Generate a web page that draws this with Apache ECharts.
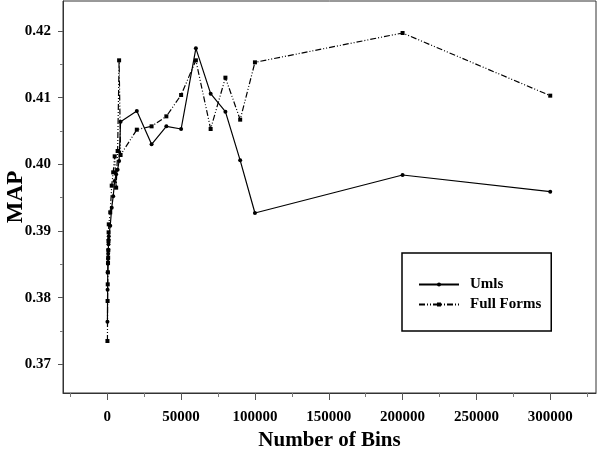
<!DOCTYPE html>
<html>
<head>
<meta charset="utf-8">
<script src="https://cdn.jsdelivr.net/npm/echarts@6/dist/echarts.min.js"></script>
<style>html,body{margin:0;padding:0;background:#fff}#c{width:600px;height:451px}</style>
</head>
<body>
<div id="c"></div>
<script>
const bins = [100,200,300,400,500,600,700,800,900,1000,2000,3000,4000,5000,6000,7000,8000,9000,20000,30000,40000,50000,60000,70000,80000,90000,100000,200000,300000];
const umlsMap = [0.3764,0.3812,0.3838,0.3851,0.3858,0.3866,0.3872,0.3880,0.3887,0.3892,0.3908,0.3935,0.3952,0.3975,0.3985,0.3992,0.4005,0.4064,0.4080,0.4030,0.4057,0.4053,0.4174,0.4106,0.4079,0.4006,0.3927,0.3984,0.3959];
const fullFormsMap = [0.3735,0.3795,0.3820,0.3838,0.3852,0.3860,0.3871,0.3885,0.3898,0.3910,0.3928,0.3968,0.3988,0.4012,0.3965,0.4020,0.4156,0.4014,0.4052,0.4057,0.4072,0.4104,0.4156,0.4053,0.4130,0.4067,0.4153,0.4197,0.4103];
const xTickLabels = [0,50000,100000,150000,200000,250000,300000];
const xMinorTicks = [-25000,25000,75000,125000,175000,225000,275000,325000];
const yTickLabels = [0.37,0.38,0.39,0.40,0.41,0.42];
const yMinorTicks = [0.375,0.385,0.395,0.405,0.415];

const font = '"Liberation Serif","Times New Roman",serif';
const chart = echarts.init(document.getElementById('c'));
const xMin = -30000, xMax = 331000, yMin = 0.3657, yMax = 0.4245;
const lbl = {color:'#000', fontFamily:font, fontWeight:'bold', fontSize:15};
chart.setOption({
  animation:false,
  grid:{left:63,right:4,top:1,bottom:58,show:true,borderColor:'#333',borderWidth:1,containLabel:false,outerBoundsMode:'none'},
  legend:{
    left:402, top:253, orient:'vertical',
    borderColor:'#000', borderWidth:1.5,
    padding:[24,10,19,16], itemGap:5, itemWidth:40, itemHeight:5,
    textStyle:{color:'#000', fontFamily:font, fontWeight:'bold', fontSize:15, padding:[0,0,0,6]},
    data:['Umls','Full Forms']
  },
  xAxis:[{
    type:'value', min:xMin, max:xMax, position:'bottom',
    name:'Number of Bins', nameLocation:'middle', nameGap:37, nameMoveOverlap:false,
    nameTextStyle:{color:'#000', fontFamily:font, fontWeight:'bold', fontSize:21},
    axisLine:{show:true,onZero:false,lineStyle:{color:'#333'}},
    axisTick:{show:true,length:7,customValues:xTickLabels,lineStyle:{color:'#555'}},
    axisLabel:Object.assign({margin:17,customValues:xTickLabels,formatter:v=>String(v)},lbl),
    splitLine:{show:false}
  },{
    type:'value', min:xMin, max:xMax, position:'bottom',
    axisLine:{show:false,onZero:false},
    axisTick:{show:true,length:4,customValues:xMinorTicks,lineStyle:{color:'#777'}},
    axisLabel:{show:false},
    splitLine:{show:false}
  }],
  yAxis:[{
    type:'value', min:yMin, max:yMax, position:'left',
    name:'MAP', nameLocation:'middle', nameGap:35, nameRotate:90, nameMoveOverlap:false,
    nameTextStyle:{color:'#000', fontFamily:font, fontWeight:'bold', fontSize:23},
    axisLine:{show:true,onZero:false,lineStyle:{color:'#333'}},
    axisTick:{show:true,length:5,customValues:yTickLabels,lineStyle:{color:'#555'}},
    axisLabel:Object.assign({margin:12,customValues:yTickLabels,formatter:v=>v.toFixed(2)},lbl),
    splitLine:{show:false}
  },{
    type:'value', min:yMin, max:yMax, position:'left',
    axisLine:{show:false,onZero:false},
    axisTick:{show:true,length:3,customValues:yMinorTicks,lineStyle:{color:'#777'}},
    axisLabel:{show:false},
    splitLine:{show:false}
  }],
  series:[{
    name:'Umls', type:'line', xAxisIndex:0, yAxisIndex:0,
    data:bins.map((b,i)=>[b,umlsMap[i]]),
    symbol:'circle', symbolSize:4, showAllSymbol:true,
    lineStyle:{color:'#000',width:1.2,type:'solid'},
    itemStyle:{color:'#000'}
  },{
    name:'Full Forms', type:'line', xAxisIndex:0, yAxisIndex:0,
    data:bins.map((b,i)=>[b,fullFormsMap[i]]),
    symbol:'rect', symbolSize:4, showAllSymbol:true,
    lineStyle:{color:'#000',width:1.2,type:[6,2,1,2,1,2]},
    itemStyle:{color:'#000'}
  }]
});
</script>
</body>
</html>
